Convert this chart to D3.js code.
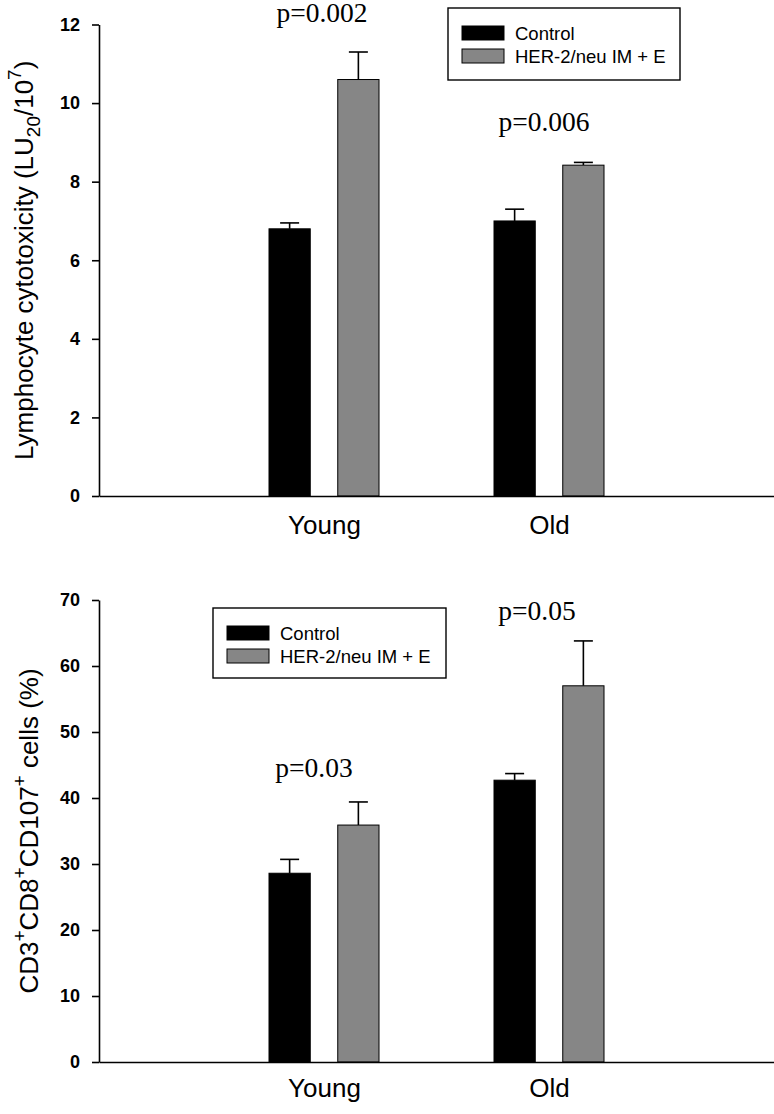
<!DOCTYPE html>
<html><head><meta charset="utf-8">
<script src="https://cdn.jsdelivr.net/npm/d3@7"></script>
<style>
html,body{margin:0;padding:0;background:#fff;}
svg{display:block;}
</style></head>
<body>
<svg id="chart" width="774" height="1114"></svg>
<script>
// ---- data ----
const groups = ["Young", "Old"];
const seriesNames = ["Control", "HER-2/neu IM + E"];
const seriesColors = ["#000000", "#868686"];

// Panel A: lymphocyte cytotoxicity (LU20/10^7)
const cytoControl = [6.8, 7.0];
const cytoControlErr = [0.15, 0.3];
const cytoTreated = [10.6, 8.42];
const cytoTreatedErr = [0.7, 0.07];
const cytoTicks = [0, 2, 4, 6, 8, 10, 12];
const cytoPLabels = ["p=0.002", "p=0.006"];
const cytoPAt = [12.06, 9.3];

// Panel B: CD3+CD8+CD107+ cells (%)
const cdControl = [28.6, 42.7];
const cdControlErr = [2.1, 1.0];
const cdTreated = [35.9, 57.0];
const cdTreatedErr = [3.5, 6.8];
const cdTicks = [0, 10, 20, 30, 40, 50, 60, 70];
const cdPLabels = ["p=0.03", "p=0.05"];
const cdPAt = [43.2, 67.0];

const SANS = "'Liberation Sans', Arial, sans-serif";
const SERIF = "'Liberation Serif', 'Times New Roman', serif";

const svg = d3.select("#chart");

function drawPanel(cfg) {
  const g = svg.append("g");
  const x = d3.scalePoint().domain(["_l", ...groups, "_r"]).range([99, 774]).padding(0);
  const sub = d3.scaleBand().domain(seriesNames).range([-55, 55]).paddingInner(0.4);
  const y = d3.scaleLinear().domain([0, cfg.yMax]).range([cfg.y0, cfg.y1]);

  const rows = [];
  groups.forEach((grp, i) => {
    rows.push({grp, s: 0, v: cfg.control[i], e: cfg.controlErr[i]});
    rows.push({grp, s: 1, v: cfg.treated[i], e: cfg.treatedErr[i]});
  });
  // error bars (upper only)
  rows.forEach(r => {
    const cx = x(r.grp) + sub(seriesNames[r.s]) + sub.bandwidth() / 2;
    g.append("line").attr("x1", cx).attr("x2", cx)
      .attr("y1", y(r.v)).attr("y2", y(r.v + r.e))
      .attr("stroke", "#000").attr("stroke-width", 1.6);
    g.append("line").attr("x1", cx - 9.5).attr("x2", cx + 9.5)
      .attr("y1", y(r.v + r.e)).attr("y2", y(r.v + r.e))
      .attr("stroke", "#000").attr("stroke-width", 1.6);
  });
  g.selectAll("rect.bar").data(rows).enter().append("rect")
    .attr("class", "bar")
    .attr("x", d => x(d.grp) + sub(seriesNames[d.s]))
    .attr("width", sub.bandwidth())
    .attr("y", d => y(d.v))
    .attr("height", d => y(0) - y(d.v))
    .attr("fill", d => seriesColors[d.s])
    .attr("stroke", "#000").attr("stroke-width", 1);

  // axes
  const ya = g.append("g").attr("transform", `translate(99,0)`)
    .call(d3.axisLeft(y).tickValues(cfg.ticks).tickSize(7).tickSizeOuter(0).tickPadding(12));
  ya.select(".domain").attr("stroke-width", 1.6);
  ya.selectAll(".tick line").attr("stroke-width", 1.6);
  ya.selectAll("text").attr("font-family", SANS).attr("font-size", 18).attr("font-weight", "bold").attr("fill", "#000");

  const xa = g.append("g").attr("transform", `translate(0,${cfg.y0})`)
    .call(d3.axisBottom(x).tickValues(groups).tickSize(0).tickSizeOuter(0).tickPadding(cfg.xPad));
  xa.select(".domain").attr("stroke-width", 1.6);
  xa.selectAll("text").attr("font-family", SANS).attr("font-size", 26).attr("fill", "#000");

  // y-axis title
  const cy = (cfg.y0 + cfg.y1) / 2;
  const t = g.append("text")
    .attr("transform", `translate(${cfg.titleX},${cy}) rotate(-90)`)
    .attr("text-anchor", "middle")
    .attr("font-family", SANS).attr("font-size", 26).attr("fill", "#000");
  cfg.title(t);

  // p-value labels
  groups.forEach((grp, i) => {
    g.append("text")
      .attr("x", x(grp) + cfg.pDx[i]).attr("y", y(cfg.pAt[i]))
      .attr("text-anchor", "middle")
      .attr("font-family", SERIF).attr("font-size", 27.5).attr("fill", "#000")
      .text(cfg.pLabels[i]);
  });

  // legend
  const L = cfg.legend;
  const lg = g.append("g").attr("transform", `translate(${L.x},${L.y})`);
  lg.append("rect").attr("width", L.w).attr("height", L.h)
    .attr("fill", "#fff").attr("stroke", "#000").attr("stroke-width", 1.4);
  seriesNames.forEach((s, i) => {
    lg.append("rect").attr("x", 14).attr("y", 18 + i * 23).attr("width", 42).attr("height", 14)
      .attr("fill", seriesColors[i]).attr("stroke", "#000").attr("stroke-width", 1);
    lg.append("text").attr("x", 67).attr("y", 32 + i * 23)
      .attr("font-family", SANS).attr("font-size", 18.5).attr("fill", "#000").text(s);
  });
}

drawPanel({
  y0: 496, y1: 24.5, yMax: 12, ticks: cytoTicks,
  control: cytoControl, controlErr: cytoControlErr,
  treated: cytoTreated, treatedErr: cytoTreatedErr,
  pLabels: cytoPLabels, pAt: cytoPAt, pDx: [-2, -5],
  xPad: 20, titleX: 33,
  legend: {x: 448, y: 8, w: 232, h: 72},
  title: t => {
    t.append("tspan").text("Lymphocyte cytotoxicity (LU");
    t.append("tspan").attr("font-size", 19).attr("dy", 7).text("20");
    t.append("tspan").attr("dy", -7).text("/10");
    t.append("tspan").attr("font-size", 19).attr("dy", -12).text("7");
    t.append("tspan").attr("dy", 12).text(")");
  }
});

drawPanel({
  y0: 1062, y1: 600, yMax: 70, ticks: cdTicks,
  control: cdControl, controlErr: cdControlErr,
  treated: cdTreated, treatedErr: cdTreatedErr,
  pLabels: cdPLabels, pAt: cdPAt, pDx: [-10, -12],
  xPad: 17, titleX: 38,
  legend: {x: 213, y: 608, w: 233, h: 70},
  title: t => {
    t.append("tspan").text("CD3");
    t.append("tspan").attr("font-size", 19).attr("dy", -12).text("+");
    t.append("tspan").attr("dy", 12).text("CD8");
    t.append("tspan").attr("font-size", 19).attr("dy", -12).text("+");
    t.append("tspan").attr("dy", 12).text("CD107");
    t.append("tspan").attr("font-size", 19).attr("dy", -12).text("+");
    t.append("tspan").attr("dy", 12).text(" cells (%)");
  }
});
</script>
</body></html>
